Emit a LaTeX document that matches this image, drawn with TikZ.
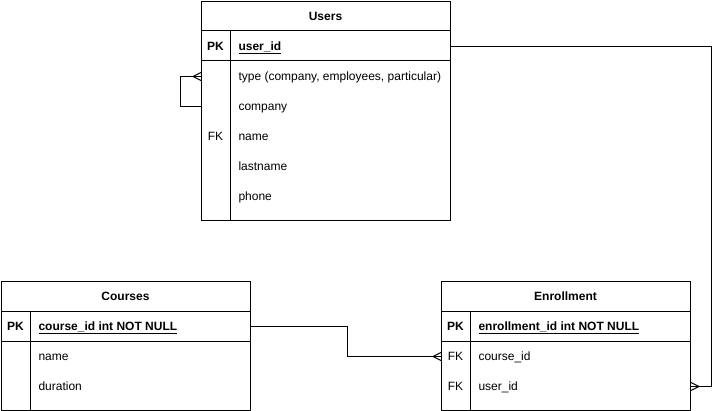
\documentclass[tikz,border=0pt]{standalone}
\usepackage{fontspec}
\setmainfont{Liberation Sans}
\begin{document}
\begin{tikzpicture}[x=1pt,y=-1pt,line width=1pt,
  tbl/.style={draw,anchor=north west,inner sep=0pt,minimum width=249pt},
  row/.style={anchor=north west,inner sep=0pt,minimum width=249pt,minimum height=30pt},
  txt/.style={inner sep=0pt,text height=11.6pt,text depth=2.6pt},
  hdr/.style={txt,font=\fontsize{12}{14}\selectfont\bfseries},
  key/.style={txt,font=\fontsize{12}{14}\selectfont},
  pkk/.style={txt,font=\fontsize{12}{14}\selectfont\bfseries},
  fld/.style={txt,font=\fontsize{12}{14}\selectfont,anchor=west},
  pkf/.style={txt,font=\fontsize{12}{14}\selectfont\bfseries,anchor=west}]
\useasboundingbox (0,0) rectangle (719,411);
\newcommand{\ulname}[1]{\underline{#1}}
% ---------- Users ----------
\node[tbl,minimum height=219pt] (users) at (201,1) {};
\draw (201,31) -- (450,31);
\draw (201,61) -- (450,61);
\draw (230,31) -- (230,220);
\node[hdr] (users-h) at (325.5,16) {Users};
\node[row] (u-pk) at (201,31) {};
\node[row] (u-type) at (201,61) {};
\node[row] (u-company) at (201,91) {};
\node[row] (u-name) at (201,121) {};
\node[row] (u-lastname) at (201,151) {};
\node[row] (u-phone) at (201,181) {};
\node[pkk] (u-pk-k) at (215.5,46) {PK};
\node[pkf] (u-pk-t) at (238,46) {\ulname{user\_id}};
\node[fld] (u-type-t) at (238,76) {type (company, employees, particular)};
\node[fld] (u-company-t) at (238,106) {company};
\node[key] (u-name-k) at (215.5,136) {FK};
\node[fld] (u-name-t) at (238,136) {name};
\node[fld] (u-lastname-t) at (238,166) {lastname};
\node[fld] (u-phone-t) at (238,196) {phone};
% ---------- Courses ----------
\node[tbl,minimum height=129pt] (courses) at (1,281) {};
\draw (1,311) -- (250,311);
\draw (1,341) -- (250,341);
\draw (30,311) -- (30,410);
\node[hdr] (courses-h) at (125.5,296) {Courses};
\node[row] (c-pk) at (1,311) {};
\node[row] (c-name) at (1,341) {};
\node[row] (c-duration) at (1,371) {};
\node[pkk] (c-pk-k) at (15.5,326) {PK};
\node[pkf] (c-pk-t) at (38,326) {\ulname{course\_id int NOT NULL}};
\node[fld] (c-name-t) at (38,356) {name};
\node[fld] (c-duration-t) at (38,386) {duration};
% ---------- Enrollment ----------
\node[tbl,minimum height=129pt] (enroll) at (441,281) {};
\draw (441,311) -- (690,311);
\draw (441,341) -- (690,341);
\draw (470,311) -- (470,410);
\node[hdr] (enroll-h) at (565.5,296) {Enrollment};
\node[row] (e-pk) at (441,311) {};
\node[row] (e-cid) at (441,341) {};
\node[row] (e-uid) at (441,371) {};
\node[pkk] (e-pk-k) at (455.5,326) {PK};
\node[pkf] (e-pk-t) at (478,326) {\ulname{enrollment\_id int NOT NULL}};
\node[key] (e-cid-k) at (455.5,356) {FK};
\node[fld] (e-cid-t) at (478,356) {course\_id};
\node[key] (e-uid-k) at (455.5,386) {FK};
\node[fld] (e-uid-t) at (478,386) {user\_id};
% ---------- Connectors ----------
% self relation on Users
\draw (u-type.west) -- ++(-21,0) |- (u-company.west);
\draw (u-type.west) ++(-8,0) -- ++(8,-4) (u-type.west) ++(-8,0) -- ++(8,4);
% Users -> Enrollment
\draw (u-pk.east) -- ++(260,0) |- (e-uid.east);
\draw (e-uid.east) ++(8,0) -- ++(-8,-4) (e-uid.east) ++(8,0) -- ++(-8,4);
% Courses -> Enrollment
\draw (c-pk.east) -- ++(96,0) |- (e-cid.west);
\draw (e-cid.west) ++(-8,0) -- ++(8,-4) (e-cid.west) ++(-8,0) -- ++(8,4);
\end{tikzpicture}
\end{document}
